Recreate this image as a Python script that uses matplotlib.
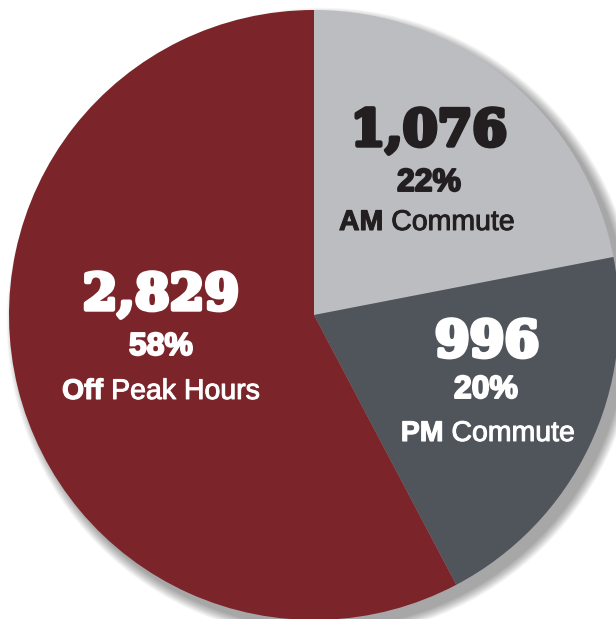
#!/usr/bin/env python3
"""Trips by time of day — pie chart with in-slice labels, saved to out.png."""

import matplotlib
matplotlib.use("Agg")
import matplotlib.pyplot as plt
import matplotlib.patheffects as pe
from matplotlib.patches import Circle

# data
periods = ["AM Commute", "PM Commute", "Off Peak Hours"]
trips = [1076, 996, 2829]
shares = ["22%", "20%", "58%"]
counts = ["1,076", "996", "2,829"]
bold_word = ["AM", "PM", "Off"]
rest_word = ["Commute", "Commute", "Peak Hours"]

colors = ["#bcbdc0", "#50545b", "#7b252a"]
text_colors = ["#231f20", "white", "white"]
# label centres in pixel coords (x, y from top) for number / pct / name
label_pos = [(429, 429, 427), (487, 486, 488), (161, 161, 161)]
label_y = [(132, 183, 223), (343, 390, 434), (296, 347, 392)]

W, H = 616, 619
CX, CY, R = 314, H - 315, 305

fig = plt.figure(figsize=(W / 100, H / 100), dpi=100)
ax = fig.add_axes([0, 0, 1, 1])

# soft drop shadow behind the pie, mostly to the lower right
for k in range(16, 0, -1):
    ax.add_patch(Circle((CX + 8, CY - 8), R + k * 0.65, color="#000000",
                        alpha=0.024, lw=0, zorder=0))

ax.pie(trips, colors=colors, startangle=90, counterclock=False,
       center=(CX, CY), radius=R, frame=True,
       wedgeprops=dict(linewidth=0))

ax.set_xlim(0, W)
ax.set_ylim(0, H)
ax.set_aspect("equal")
ax.axis("off")


def thick(c, lw):
    return [pe.withStroke(linewidth=lw, foreground=c)]


num_font = dict(family="DejaVu Serif", weight="bold", size=36)
pct_font = dict(family="Liberation Sans", weight="bold", size=23)
lab_family, lab_size = "Liberation Sans", 20.5

fig.canvas.draw()
renderer = fig.canvas.get_renderer()

for i in range(len(periods)):
    xs, ys = label_pos[i], label_y[i]
    c = text_colors[i]
    ax.text(xs[0], H - ys[0], counts[i], ha="center", va="center",
            color=c, path_effects=thick(c, 3.2), **num_font)
    ax.text(xs[1], H - ys[1], shares[i], ha="center", va="center",
            color=c, path_effects=thick(c, 1.4), **pct_font)
    # name: bold first word + lighter rest, centred as one line
    t1 = ax.text(0, H - ys[2], bold_word[i] + " ", ha="left", va="center",
                 color=c, weight="bold", family=lab_family, size=lab_size,
                 path_effects=thick(c, 0.8))
    t2 = ax.text(0, H - ys[2], rest_word[i], ha="left", va="center",
                 color=c, family=lab_family, size=lab_size,
                 path_effects=thick(c, 0.7))
    inv = ax.transData.inverted()
    w1 = t1.get_window_extent(renderer).width
    w2 = t2.get_window_extent(renderer).width
    x0_px = ax.transData.transform((xs[2], 0))[0] - (w1 + w2) / 2
    t1.set_x(inv.transform((x0_px, 0))[0])
    t2.set_x(inv.transform((x0_px + w1, 0))[0])

fig.savefig("out.png", dpi=100, facecolor="white")
